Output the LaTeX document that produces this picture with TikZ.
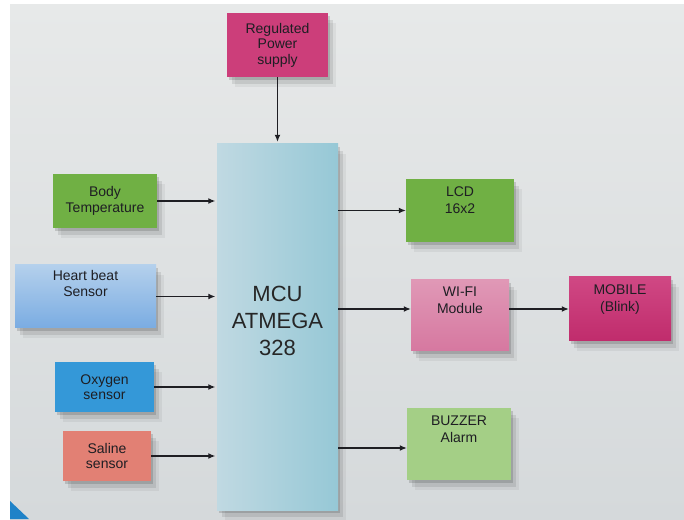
\documentclass[tikz,border=0pt]{standalone}
\usepackage{fontspec}
\setmainfont{Liberation Sans}
\usepackage{tikz}
\usetikzlibrary{arrows.meta, positioning, calc, shadows}
\definecolor{mydark}{RGB}{30,30,35}
\definecolor{bgtop}{RGB}{231,233,233}
\definecolor{bgbot}{RGB}{213,217,219}
\definecolor{mymagenta}{RGB}{204,62,122}
\definecolor{mygreen}{RGB}{112,176,68}
\definecolor{hbtop}{RGB}{180,208,236}
\definecolor{hbbot}{RGB}{122,172,226}
\definecolor{myblue}{RGB}{52,152,216}
\definecolor{mysalmon}{RGB}{226,128,116}
\definecolor{mculeft}{RGB}{192,217,226}
\definecolor{mcuright}{RGB}{150,200,214}
\definecolor{wifitop}{RGB}{224,152,182}
\definecolor{wifibot}{RGB}{214,120,160}
\definecolor{mobtop}{RGB}{208,72,132}
\definecolor{mobbot}{RGB}{192,44,108}
\definecolor{lightgreen}{RGB}{164,207,134}
\definecolor{mywedge}{RGB}{30,130,200}
\tikzset{
  softshadow/.style={drop shadow={shadow xshift=2pt, shadow yshift=-3pt,
    opacity=0.14, fill=black},
    drop shadow={shadow xshift=5pt, shadow yshift=-7pt, opacity=0.09, fill=black},
    drop shadow={shadow xshift=8pt, shadow yshift=-10pt, opacity=0.05, fill=black}},
  block/.style={rectangle, draw=none, align=center, text=mydark,
    font=\fontsize{14}{15.5}\selectfont, softshadow},
  greenblock/.style={block, fill=mygreen},
  pinkblock/.style={block, fill=mymagenta},
  mcublock/.style={block, left color=mculeft, right color=mcuright},
  toptext/.style={anchor=north, align=center, text=mydark, inner sep=0pt,
    font=\fontsize{14}{16.5}\selectfont},
  mcutext/.style={align=center, text=black!85, inner sep=0pt,
    font=\fontsize{22}{27}\selectfont},
  arrow/.style={-{Latex[length=7pt, width=6pt]}, line width=1.3pt, color=mydark}
}
\begin{document}
\begin{tikzpicture}[x=1pt, y=1pt]
  % background
  \useasboundingbox (0,0) rectangle (684,519);
  \fill[white] (0,0) rectangle (684,519);
  \shade[top color=bgtop, bottom color=bgbot] (10,0) rectangle (684,514);
  \fill[mywedge] (10,18) -- (10,0) -- (29,0) -- cycle;

  % blocks
  \node[pinkblock, minimum width=101pt, minimum height=64pt] (power) at (277.5,474)
    {Regulated\\Power\\supply};
  \node[mcublock, minimum width=121pt, minimum height=366pt] (mcu) at (277.5,192) {};
  \node[mcutext] (mcutxt) at (277.5,198) {MCU\\ATMEGA\\328};
  \node[greenblock, minimum width=104pt, minimum height=54pt] (body) at (105,318)
    {Body\\Temperature};
  \node[block, top color=hbtop, bottom color=hbbot, minimum width=141pt,
    minimum height=63pt] (heart) at (85.5,222.5) {};
  \node[toptext] (hearttxt) at ($(heart.north)+(0,-5)$) {Heart beat\\Sensor};
  \node[block, fill=myblue, minimum width=99pt, minimum height=50pt] (oxy) at (104.5,132)
    {Oxygen\\sensor};
  \node[block, fill=mysalmon, minimum width=88pt, minimum height=50pt] (saline) at (107,63)
    {Saline\\sensor};
  \node[greenblock, minimum width=108pt, minimum height=63pt] (lcd) at (460,308.5) {};
  \node[toptext] (lcdtxt) at ($(lcd.north)+(0,-8)$) {LCD\\16x2};
  \node[block, top color=wifitop, bottom color=wifibot, minimum width=98pt,
    minimum height=71pt] (wifi) at (460,203.5) {};
  \node[toptext] (wifitxt) at ($(wifi.north)+(0,-7)$) {WI-FI\\Module};
  \node[block, top color=mobtop, bottom color=mobbot, minimum width=102pt,
    minimum height=64pt] (mob) at (620,210) {};
  \node[toptext] (mobtxt) at ($(mob.north)+(0,-8)$) {MOBILE\\(Blink)};
  \node[block, fill=lightgreen, minimum width=104pt, minimum height=72pt] (buzz) at (459,75) {};
  \node[toptext] (buzztxt) at ($(buzz.north)+(0,-8)$) {BUZZER\\Alarm};

  % connectors
  \coordinate (bztap) at ($(buzz.west)+(0,-4)$);
  \draw[arrow, shorten >=2pt] (power.south) -- (mcu.north);
  \foreach \src in {body, heart, oxy, saline}
    \draw[arrow, shorten >=1.5pt] (\src.east) -- (\src.east -| mcu.west);
  \draw[arrow] (mcu.east |- lcd.west) -- (lcd.west);
  \draw[arrow] (mcu.east |- mob.west) -- (wifi.west |- mob.west);
  \draw[arrow] (wifi.east |- mob.west) -- (mob.west);
  \draw[arrow] (mcu.east |- bztap) -- (bztap);
\end{tikzpicture}
\end{document}
